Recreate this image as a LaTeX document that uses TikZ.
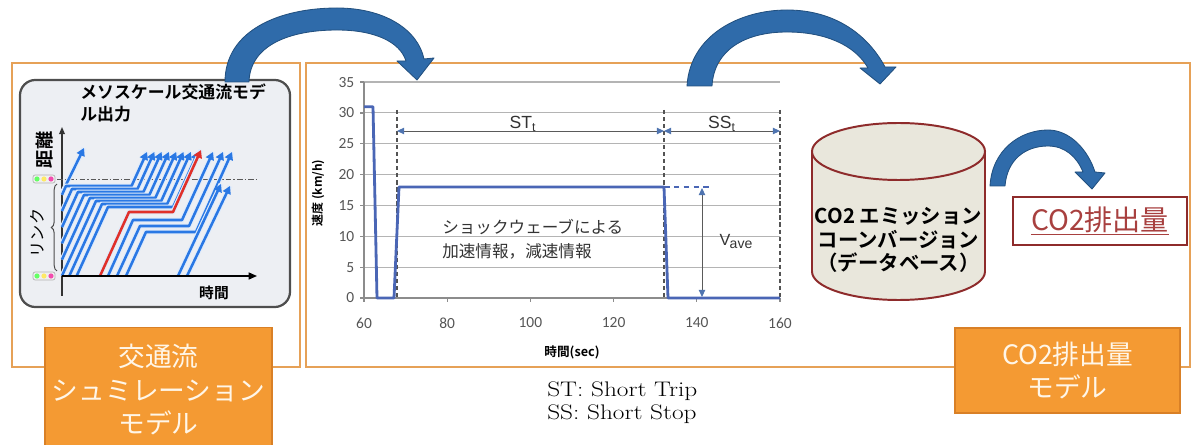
\documentclass[tikz,border=0pt]{standalone}
\usepackage{fontspec}
\usepackage{graphicx}
\usetikzlibrary{arrows.meta,decorations.pathreplacing}
\newfontfamily\jpfont{Noto Sans CJK JP}[BoldFont={Noto Sans CJK JP Bold}]
\newfontfamily\numfont{Carlito}
\newfontfamily\arialfont{Liberation Sans}

\definecolor{framec}{HTML}{E6A157}
\definecolor{panelfill}{HTML}{EDEFF3}
\definecolor{paneldraw}{HTML}{4E4E4E}
\definecolor{trajblue}{HTML}{2A78E4}
\definecolor{trajred}{HTML}{E0302A}
\definecolor{gridc}{HTML}{B4B4B4}
\definecolor{axisc}{HTML}{8C8C8C}
\definecolor{datac}{HTML}{4A66B5}
\definecolor{dimc}{HTML}{5A5A5A}
\definecolor{dimhead}{HTML}{4F74B0}
\definecolor{dbfill}{HTML}{E9E7DC}
\definecolor{dbdraw}{HTML}{8E2B2B}
\definecolor{co2c}{HTML}{A8403F}
\definecolor{orangec}{HTML}{F49A33}
\definecolor{orangedraw}{HTML}{D98026}
\definecolor{otext}{HTML}{FFF6E8}
\definecolor{arrowc}{HTML}{2F6BAA}
\definecolor{arrowdraw}{HTML}{22507F}
\definecolor{ticktext}{HTML}{555555}

\tikzset{
  frame/.style={draw=framec, line width=2pt},
  panel/.style={draw=paneldraw, line width=1.6pt, fill=panelfill, rounded corners=11pt},
  traj/.style={draw=trajblue, line width=1.8pt, line join=round,
    preaction={draw=white!85!trajblue, line width=3.4pt, arrows=-},
    -{Triangle[length=5.5pt,width=6pt]}},
  redtraj/.style={traj, draw=trajred},
  signal/.style={draw=gray!60, fill=gray!12, rounded corners=1.5pt, line width=0.5pt},
  gridline/.style={draw=gridc, line width=0.8pt},
  axisline/.style={draw=axisc, line width=0.9pt},
  dataline/.style={draw=datac, line width=2pt, line join=round},
  guide/.style={draw=gray!65!black, dash pattern=on 3pt off 2pt, line width=0.8pt},
  dimarrow/.style={draw=dimc, line width=0.7pt,
    {Triangle[length=5pt,width=4.5pt,color=dimhead]}-{Triangle[length=5pt,width=4.5pt,color=dimhead]}},
  tick/.style={font=\numfont\fontsize{11}{13}\selectfont, text=ticktext, inner sep=1pt},
  obox/.style={fill=orangec, draw=orangedraw, line width=1pt, text=otext, align=center,
    font=\jpfont\fontsize{19}{24}\selectfont, inner sep=0pt},
  bigarrow/.style={fill=arrowc, draw=arrowdraw, line width=0.6pt, line join=round},
  dbshape/.style={fill=dbfill, draw=dbdraw, line width=1.4pt},
}

\begin{document}
\begin{tikzpicture}[x=0.025cm, y=-0.025cm]
\useasboundingbox (0,0) rectangle (1197,445);

% section frames
\draw[frame] (12,63) rectangle (300,367);
\draw[frame] (306,63) rectangle (1190,367);

% ---------- traffic flow simulation output panel ----------
\node[panel, minimum width=6.75cm, minimum height=5.675cm] (simpanel) at (155,193.5) {};
\node[font=\jpfont\bfseries\fontsize{12}{15.5}\selectfont, align=left, anchor=north west, inner sep=0pt]
  (simtitle) at (80,84) {メソスケール交通流モデ\\ル出力};

% axes
\coordinate (origin) at (62,276);
\coordinate (ytop) at (62,127);
\coordinate (ybot) at (62,296);
\coordinate (xend) at (257,276);
\draw[draw=black!80, line width=1pt, -{Triangle[length=5pt,width=4pt]}] (ybot) -- (ytop);
\draw[draw=gray!70!black, dash pattern=on 4pt off 1.5pt on 1pt off 1.5pt, line width=0.6pt] (57,179) -- (258,179);

% signals at both link ends
\foreach \yy/\nm in {179/sigup, 276/sigdown}{
  \node[signal, minimum width=0.55cm, minimum height=0.2cm, inner sep=0pt] (\nm) at (44,\yy) {};
  \fill[green!60!white] (37,\yy) circle (2.6);
  \fill[yellow!80!orange!60] (44,\yy) circle (2.6);
  \fill[magenta!70] (51,\yy) circle (2.6);
}
\draw[draw=gray!60!black, line width=0.7pt, decorate, decoration={brace, amplitude=4pt}] (57,271) -- (57,184);

\node[rotate=90, font=\jpfont\bfseries\fontsize{13}{15}\selectfont, inner sep=0pt] (dist) at (45,150) {距離};
\node[rotate=90, font=\jpfont\fontsize{11.5}{13}\selectfont, inner sep=0pt] (link) at (37,233) {リンク};
\node[font=\jpfont\bfseries\fontsize{10.5}{12}\selectfont, inner sep=0pt] (simtime) at (214,293) {時間};

% vehicle trajectories
\draw[traj] (62,193) -- (84,148);
\foreach \i in {0,...,7}{
  \pgfmathsetmacro\yp{186+3*\i}
  \pgfmathsetmacro\xa{66+6*\i}
  \pgfmathsetmacro\xt{147+7.3*\i}
  \pgfmathsetmacro\xb{\xt-(\yp-152)/2.2}
  \pgfmathsetmacro\xs{max(62,\xa-(276-\yp)/2.2)}
  \pgfmathsetmacro\ys{\yp+2.2*(\xa-\xs)}
  \draw[traj] (\xs,\ys) -- (\xa,\yp) -- (\xb,\yp) -- (\xt,152);
}
\draw[redtraj] (100,276) -- (129,212) -- (173,212) -- (201,150);
\draw[traj] (108,276) -- (133,220) -- (182,220) -- (213,152);
\draw[traj] (117,276) -- (140,226) -- (189,226) -- (223,152);
\draw[traj] (126,276) -- (146,232) -- (196,232) -- (232,152);
\draw[traj] (178,276) -- (221,184);
\draw[traj] (187,276) -- (230,186);
\draw[draw=black, line width=1.1pt, -{Triangle[length=6pt,width=5pt]}] (origin) -- (xend);

% ---------- speed profile chart ----------
\foreach \v in {5,10,...,35}{
  \pgfmathsetmacro\yy{298-6.17*\v}
  \draw[gridline] (364,\yy) -- (780,\yy);
}
\foreach \v in {0,5,...,35}{
  \pgfmathsetmacro\yy{298-6.17*\v}
  \draw[axisline] (360,\yy) -- (364,\yy);
  \node[tick, anchor=east] (yt\v) at (356,\yy) {\v};
}
\draw[axisline] (364,82) -- (364,298) -- (780,298);
\foreach \t [count=\k from 0] in {60,80,...,160}{
  \pgfmathsetmacro\xx{364+83.2*\k}
  \draw[axisline] (\xx,298) -- (\xx,302);
  \node[tick] (xt\t) at (\xx,323) {\t};
}
\node[font=\jpfont\bfseries\fontsize{9}{11}\selectfont, inner sep=0pt] (xlabel) at (572,352) {時間(sec)};
\node[rotate=90, font=\jpfont\bfseries\fontsize{8.5}{10}\selectfont, inner sep=0pt] (ylabel) at (318,193) {速度 (km/h)};

% guides
\coordinate (g1t) at (397,110); \coordinate (g1b) at (397,298);
\coordinate (g2t) at (664,110); \coordinate (g2b) at (664,298);
\coordinate (g3t) at (780,110); \coordinate (g3b) at (780,298);
\draw[guide] (g1t) -- (g1b);
\draw[guide] (g2t) -- (g2b);
\draw[guide] (g3t) -- (g3b);

% speed profile
\draw[dataline] (364,106.7) -- (373,106.7) -- (377,298) -- (394,298) -- (399,187) -- (664,187) -- (668,298) -- (780,298);
\draw[draw=datac, line width=1.6pt, dash pattern=on 4pt off 3pt] (664,187) -- (712,187);

% trip / stop spans
\coordinate (st1) at (397,131); \coordinate (st2) at (664,131); \coordinate (st3) at (780,131);
\draw[dimarrow] (st1) -- (st2);
\draw[dimarrow] (st2) -- (st3);
\node[font=\arialfont\fontsize{12.5}{14}\selectfont, text=black!80] (stlab) at (523,124) {ST\textsubscript{t}};
\node[font=\arialfont\fontsize{12.5}{14}\selectfont, text=black!80] (sslab) at (722,124) {SS\textsubscript{t}};

\coordinate (va1) at (702,188); \coordinate (va2) at (702,297);
\draw[dimarrow] (va1) -- (va2);
\node[font=\arialfont\fontsize{11.5}{13}\selectfont, text=black!80] (vlab) at (736,242) {V\kern-0.5pt\raisebox{-0.35ex}{\fontsize{10}{12}\selectfont ave}};

\node[font=\jpfont\fontsize{11.8}{17}\selectfont, text=black!80, align=left, anchor=west, inner sep=0pt]
  (shock) at (442,239) {ショックウェーブによる\\加速情報，減速情報};

% ---------- CO2 emission conversion database ----------
\path[dbshape] (812,151.5) -- (812,271.5)
  .. controls (812,287.2) and (850.7,300) .. (898.5,300)
  .. controls (946.3,300) and (985,287.2) .. (985,271.5) -- (985,151.5) -- cycle;
\draw[dbshape] (898.5,151.5) ellipse [x radius=86.5, y radius=28.5];
\node[font=\jpfont\bfseries\fontsize{14.5}{17}\selectfont, align=center, inner sep=0pt] (db) at (898.5,240)
  {CO2 エミッション\\コーンバージョン\\（データベース）};

\node[draw=dbdraw, line width=1.2pt, fill=white, minimum width=4.35cm, minimum height=1.2cm,
  font=\jpfont\fontsize{20}{24}\selectfont, text=co2c] (co2) at (1100,221) {\underline{CO2排出量}};

% ---------- model labels ----------
\node[obox, minimum width=5.675cm, minimum height=3.1cm, anchor=north] (simmodel) at (158.5,327)
  {交通流\\シュミレーション\\モデル};
\node[obox, minimum width=5.625cm, minimum height=2.125cm] (co2model) at (1067.5,370.5)
  {CO2排出量\\モデル};

% ---------- flow arrows ----------
\path[bigarrow] (225,82) .. controls (225,30) and (280,8) .. (337,8)
  .. controls (385,8) and (418,30) .. (424,59) -- (434,58) -- (417,80) -- (397,61) -- (406,61)
  .. controls (400,42) and (375,30) .. (337,30)
  .. controls (290,30) and (250,45) .. (249,82) -- cycle;
\path[bigarrow] (687,86) .. controls (690,35) and (740,10) .. (787,10)
  .. controls (835,10) and (868,35) .. (885,67) -- (896,67) -- (880,84) -- (860,68) -- (868,68)
  .. controls (855,45) and (825,32) .. (787,32)
  .. controls (745,32) and (714,50) .. (712,86) -- cycle;
\path[bigarrow] (990,186) .. controls (992,150) and (1020,130) .. (1048,130)
  .. controls (1070,130) and (1088,150) .. (1095,172) -- (1105,173) -- (1092,189) -- (1075,172) -- (1083,172)
  .. controls (1077,157) and (1065,146) .. (1048,146)
  .. controls (1025,146) and (1007,160) .. (1005,186) -- cycle;

% ---------- abbreviations ----------
\node[anchor=north west, align=left, inner sep=0pt, font=\fontsize{15}{17}\selectfont] (abbr) at (547,381)
  {\scalebox{1.2}[1]{ST: Short Trip}\\\scalebox{1.2}[1]{SS: Short Stop}};
\end{tikzpicture}
\end{document}
